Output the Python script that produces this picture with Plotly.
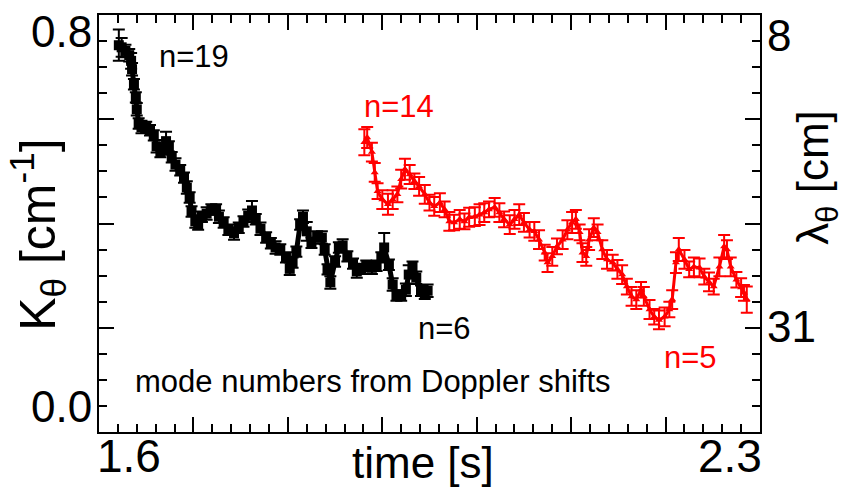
import math
import plotly.graph_objects as go

# Poloidal wavenumber vs time, two modes (mode numbers from Doppler shifts)
t_n19 = [1.621, 1.624, 1.628, 1.632, 1.634, 1.635, 1.637, 1.639, 1.640, 1.642,
         1.645, 1.650, 1.654, 1.658, 1.661, 1.665, 1.668, 1.671, 1.674, 1.677,
         1.681, 1.686, 1.690, 1.693, 1.696, 1.698, 1.702, 1.705, 1.709, 1.714,
         1.719, 1.724, 1.727, 1.732, 1.737, 1.743, 1.748, 1.753, 1.758, 1.762,
         1.766, 1.771, 1.777, 1.782, 1.787, 1.792, 1.798, 1.802, 1.805, 1.809,
         1.813, 1.816, 1.820, 1.825, 1.831, 1.836, 1.839, 1.842, 1.845, 1.850,
         1.854, 1.858, 1.863, 1.869, 1.873, 1.878, 1.883, 1.889, 1.894, 1.899,
         1.902, 1.907, 1.911, 1.915, 1.920, 1.925, 1.928, 1.932, 1.936, 1.941,
         1.945, 1.948]
k_n19 = [0.742, 0.738, 0.731, 0.723, 0.712, 0.696, 0.667, 0.642, 0.619, 0.592,
         0.585, 0.585, 0.579, 0.569, 0.548, 0.537, 0.542, 0.558, 0.548, 0.527,
         0.513, 0.502, 0.488, 0.469, 0.450, 0.423, 0.404, 0.398, 0.413, 0.419,
         0.427, 0.427, 0.413, 0.402, 0.388, 0.381, 0.392, 0.404, 0.415, 0.425,
         0.408, 0.390, 0.373, 0.362, 0.354, 0.350, 0.335, 0.313, 0.325, 0.346,
         0.398, 0.413, 0.385, 0.363, 0.375, 0.373, 0.350, 0.312, 0.287, 0.327,
         0.354, 0.358, 0.337, 0.323, 0.308, 0.313, 0.319, 0.315, 0.319, 0.335,
         0.354, 0.321, 0.283, 0.262, 0.262, 0.273, 0.302, 0.317, 0.296, 0.271,
         0.265, 0.271]
dk_n19 = [0.030, 0.018, 0.012, 0.012, 0.015, 0.012, 0.010, 0.010, 0.012, 0.010,
          0.012, 0.010, 0.010, 0.010, 0.012, 0.010, 0.010, 0.018, 0.010, 0.010,
          0.012, 0.010, 0.010, 0.012, 0.010, 0.010, 0.012, 0.010, 0.010, 0.012,
          0.010, 0.010, 0.012, 0.010, 0.010, 0.012, 0.010, 0.010, 0.012, 0.018,
          0.010, 0.012, 0.010, 0.010, 0.012, 0.010, 0.010, 0.012, 0.010, 0.010,
          0.010, 0.012, 0.018, 0.010, 0.010, 0.012, 0.010, 0.010, 0.012, 0.010,
          0.010, 0.012, 0.010, 0.010, 0.012, 0.010, 0.010, 0.012, 0.010, 0.010,
          0.028, 0.010, 0.012, 0.010, 0.010, 0.012, 0.018, 0.010, 0.012, 0.010,
          0.010, 0.012]

t_n14 = [1.881, 1.884, 1.889, 1.892, 1.895, 1.900, 1.906, 1.911, 1.916, 1.920,
         1.924, 1.929, 1.934, 1.939, 1.945, 1.950, 1.955, 1.961, 1.966, 1.971,
         1.976, 1.982, 1.987, 1.992, 1.998, 2.003, 2.008, 2.013, 2.019, 2.024,
         2.029, 2.035, 2.040, 2.045, 2.050, 2.056, 2.061, 2.066, 2.072, 2.075,
         2.080, 2.085, 2.091, 2.096, 2.101, 2.105, 2.109, 2.112, 2.116, 2.119,
         2.124, 2.128, 2.133, 2.138, 2.144, 2.149, 2.154, 2.159, 2.164, 2.169,
         2.174, 2.177, 2.183, 2.188, 2.193, 2.199, 2.204, 2.207, 2.211, 2.214,
         2.220, 2.225, 2.230, 2.236, 2.241, 2.246, 2.251, 2.257, 2.262, 2.265,
         2.269, 2.275, 2.280, 2.283, 2.286]
k_n14 = [0.556, 0.565, 0.537, 0.498, 0.462, 0.446, 0.437, 0.446, 0.456, 0.485,
         0.504, 0.494, 0.481, 0.471, 0.456, 0.440, 0.433, 0.440, 0.427, 0.404,
         0.402, 0.408, 0.404, 0.412, 0.413, 0.417, 0.421, 0.427, 0.431, 0.421,
         0.408, 0.398, 0.408, 0.417, 0.402, 0.388, 0.385, 0.369, 0.344, 0.325,
         0.337, 0.356, 0.369, 0.388, 0.402, 0.408, 0.383, 0.344, 0.337, 0.369,
         0.392, 0.383, 0.350, 0.331, 0.325, 0.312, 0.302, 0.279, 0.260, 0.254,
         0.273, 0.260, 0.235, 0.221, 0.215, 0.221, 0.235, 0.254, 0.325, 0.350,
         0.331, 0.312, 0.317, 0.315, 0.298, 0.288, 0.279, 0.317, 0.356, 0.350,
         0.317, 0.292, 0.277, 0.267, 0.254]
dk_n14 = [0.025, 0.020, 0.018, 0.018, 0.015, 0.018, 0.020, 0.018, 0.015, 0.018,
          0.020, 0.018, 0.015, 0.018, 0.018, 0.015, 0.018, 0.018, 0.015, 0.018,
          0.015, 0.018, 0.015, 0.018, 0.018, 0.020, 0.018, 0.015, 0.018, 0.018,
          0.015, 0.018, 0.018, 0.020, 0.018, 0.015, 0.018, 0.018, 0.015, 0.018,
          0.018, 0.015, 0.018, 0.018, 0.020, 0.018, 0.015, 0.018, 0.018, 0.020,
          0.018, 0.015, 0.018, 0.018, 0.015, 0.018, 0.018, 0.015, 0.018, 0.018,
          0.015, 0.018, 0.018, 0.015, 0.018, 0.018, 0.015, 0.018, 0.020, 0.022,
          0.018, 0.015, 0.018, 0.018, 0.015, 0.018, 0.015, 0.018, 0.022, 0.018,
          0.018, 0.015, 0.018, 0.015, 0.025]

t_range = [1.6, 2.3]
k_range = [0.0, 0.8]
t_labels = ["1.6", "2.3"]
k_labels = ["0.0", "0.8"]
lambda_labels = [8, 31]          # wavelength [cm], placed at K = 2*pi/lambda

BLACK = "#000000"
RED = "#ff0000"
FONT = "Liberation Sans, Arial, sans-serif"

fig = go.Figure()

fig.add_trace(go.Scatter(
    x=t_n19, y=k_n19, mode="lines+markers",
    line=dict(color=BLACK, width=5),
    marker=dict(symbol="square", size=10, color=BLACK),
    error_y=dict(type="data", array=dk_n19, color=BLACK, thickness=2, width=6),
    showlegend=False))

fig.add_trace(go.Scatter(
    x=t_n14, y=k_n14, mode="lines+markers",
    line=dict(color=RED, width=3),
    marker=dict(symbol="triangle-up", size=7, color=RED),
    error_y=dict(type="data", array=dk_n14, color=RED, thickness=2, width=6),
    showlegend=False))

axis_common = dict(
    showline=True, linecolor=BLACK, linewidth=2, mirror="allticks",
    ticks="inside", tickcolor=BLACK, tickwidth=2,
    showgrid=False, zeroline=False, showticklabels=False)

fig.update_xaxes(range=t_range, dtick=0.1, tick0=1.6, ticklen=15,
                 minor=dict(dtick=0.02, ticks="inside", ticklen=8,
                            tickcolor=BLACK, tickwidth=2, showgrid=False),
                 **axis_common)
fig.update_yaxes(range=k_range, dtick=0.2, tick0=0.0, ticklen=15,
                 minor=dict(dtick=0.05, ticks="inside", ticklen=8,
                            tickcolor=BLACK, tickwidth=2, showgrid=False),
                 **axis_common)

ann = []
# axis end labels
ann.append(dict(x=t_range[0], y=0, xref="x", yref="paper", text=t_labels[0],
                xanchor="left", yanchor="top", xshift=-4, yshift=4,
                font=dict(size=46)))
ann.append(dict(x=t_range[1], y=0, xref="x", yref="paper", text=t_labels[1],
                xanchor="right", yanchor="top", xshift=4, yshift=4,
                font=dict(size=46)))
ann.append(dict(x=0, y=k_range[0], xref="paper", yref="y", text=k_labels[0],
                xanchor="right", yanchor="bottom", xshift=-5, yshift=-1,
                font=dict(size=44)))
ann.append(dict(x=0, y=k_range[1], xref="paper", yref="y", text=k_labels[1],
                xanchor="right", yanchor="top", xshift=-5, yshift=10,
                font=dict(size=44)))
for lam in lambda_labels:
    top = lam < 10
    ann.append(dict(x=1, y=2 * math.pi / lam, xref="paper", yref="y",
                    text=str(lam), xanchor="left",
                    yanchor=("top" if top else "middle"), xshift=5,
                    yshift=(14 if top else 0),
                    font=dict(size=44)))

# axis titles
ann.append(dict(x=0.5, y=0, xref="paper", yref="paper", text="time [s]",
                xanchor="center", yanchor="top", yshift=-4, xshift=-7,
                font=dict(size=44)))
ann.append(dict(x=0, y=0.473, xref="paper", yref="paper",
                text="K<sub>θ</sub> [cm<sup>-1</sup>]", textangle=-90,
                xanchor="center", yanchor="middle", xshift=-61,
                font=dict(size=50)))
ann.append(dict(x=1, y=0.61, xref="paper", yref="paper",
                text="λ<sub>θ</sub> [cm]", textangle=-90,
                xanchor="center", yanchor="middle", xshift=56,
                font=dict(size=44)))

# in-plot labels
ann.append(dict(x=1.701, y=0.720, xref="x", yref="y", text="n=19",
                showarrow=False, font=dict(size=31, color=BLACK)))
ann.append(dict(x=1.918, y=0.625, xref="x", yref="y", text="n=14",
                showarrow=False, font=dict(size=31, color=RED)))
ann.append(dict(x=1.966, y=0.198, xref="x", yref="y", text="n=6",
                showarrow=False, font=dict(size=31, color=BLACK)))
ann.append(dict(x=2.226, y=0.142, xref="x", yref="y", text="n=5",
                showarrow=False, font=dict(size=31, color=RED)))
ann.append(dict(x=0.051, y=0.12, xref="paper", yref="paper",
                text="mode numbers from Doppler shifts", xanchor="left",
                yanchor="middle", showarrow=False,
                font=dict(size=31, color=BLACK)))

for a in ann:
    a.setdefault("showarrow", False)
    a["font"].setdefault("color", BLACK)
    a["font"]["family"] = FONT

fig.update_layout(
    width=848, height=492,
    margin=dict(l=99, r=88, t=15, b=60),
    paper_bgcolor="white", plot_bgcolor="white",
    font=dict(family=FONT, color=BLACK),
    annotations=ann)

fig.write_html("out.html")
